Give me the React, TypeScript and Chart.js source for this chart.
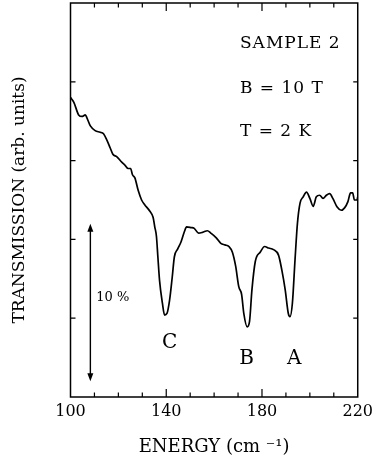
import { useEffect, useRef } from 'react';
import { Chart, registerables } from 'chart.js';

Chart.register(...registerables);

// Energy (cm^-1)
const energy = [
  100, 101.4, 103.4, 104.8, 106.2, 106.9, 108.3, 110.3, 112.4, 113.8,
  115.2, 116.6, 117.7, 119.3, 121.4, 122.8, 124.1, 125.1, 125.9, 126.9,
  128.3, 129.7, 131.0, 133.1, 134.5, 135.2, 135.9, 136.5, 137.2, 138.4,
  139.3, 140.3, 141.4, 142.5, 143.4, 144.8, 146.2, 147.6, 148.5, 150.4,
  151.7, 153.5, 155.2, 157.2, 158.6, 160.9, 162.8, 164.5, 166.2, 167.6,
  169.0, 170.3, 171.5, 172.4, 173.8, 174.8, 175.8, 177.2, 179.3, 181.1,
  182.8, 184.8, 186.9, 188.3, 189.7, 191.0, 191.7, 192.7, 193.8, 194.8,
  195.9, 197.2, 198.6, 200.0, 201.4, 202.7, 204.1, 205.5, 206.9, 208.3,
  209.6, 211.4, 213.1, 214.5, 215.9, 217.0, 217.9, 218.6, 219.7, 220,
];

// Transmission (%, arbitrary offset)
const transmission = [
  19.0, 18.7, 17.9, 17.8, 17.9, 17.7, 17.2, 16.9, 16.8, 16.7,
  16.3, 15.8, 15.4, 15.25, 14.9, 14.7, 14.5, 14.5, 14.1, 13.9,
  13.1, 12.5, 12.2, 11.8, 11.4, 10.8, 10.2, 8.9, 7.4, 5.95,
  5.2, 5.3, 6.15, 7.6, 8.9, 9.4, 9.85, 10.5, 10.8, 10.75,
  10.7, 10.4, 10.45, 10.55, 10.4, 10.1, 9.75, 9.65, 9.55, 9.2,
  8.3, 7.0, 6.5, 5.3, 4.45, 4.8, 6.8, 8.6, 9.2, 9.55,
  9.45, 9.35, 9.0, 8.05, 6.8, 5.3, 5.1, 5.95, 8.7, 11.0,
  12.3, 12.7, 13.0, 12.6, 12.1, 12.7, 12.8, 12.6, 12.8, 12.9,
  12.6, 12.05, 11.85, 12.0, 12.4, 12.95, 12.95, 12.5, 12.5, 12.7,
];

const xMinorTicks = [110, 120, 130, 140, 150, 160, 170, 180, 190, 200, 210];
const xMajorTicks = [140, 180];
const xLabelValues = [100, 140, 180, 220];
const yTicks = [5, 10, 15, 20];

const infoLines = ['SAMPLE 2', 'B = 10 T', 'T = 2 K'];
const peakLabels = ['C', 'B', 'A'];
const scaleBarLabel = '10 %';
const scaleBarRange = [1, 11];

const FONT = '"DejaVu Serif", "Liberation Serif", serif';

// annotation placement (data coordinates)
const infoPos = [
  { x: 170.8, y: 22.45 },
  { x: 170.8, y: 19.6 },
  { x: 170.8, y: 16.85 },
];
const peakPos = [
  { x: 141.4, y: 3.45 },
  { x: 173.6, y: 2.45 },
  { x: 193.5, y: 2.45 },
];
const scaleBarX = 108.3;
const scaleBarLabelPos = { x: 110.8, y: 6.3 };

const framePlugin = {
  id: 'frameTicks',
  afterDatasetsDraw(chart: any) {
    const { ctx, chartArea, scales } = chart;
    const xs = scales.x;
    const ys = scales.y;
    const { left, right, top, bottom } = chartArea;
    ctx.save();
    ctx.strokeStyle = '#000';
    ctx.lineWidth = 1.5;
    ctx.strokeRect(left, top, right - left, bottom - top);
    ctx.lineWidth = 1.2;
    ctx.beginPath();
    for (const v of xMinorTicks) {
      const px = xs.getPixelForValue(v);
      const len = xMajorTicks.includes(v) ? 8 : 4.5;
      ctx.moveTo(px, bottom);
      ctx.lineTo(px, bottom - len);
      ctx.moveTo(px, top);
      ctx.lineTo(px, top + len);
    }
    for (const v of yTicks) {
      const py = ys.getPixelForValue(v);
      ctx.moveTo(left, py);
      ctx.lineTo(left + 5, py);
      ctx.moveTo(right, py);
      ctx.lineTo(right - 4.5, py);
    }
    ctx.stroke();
    ctx.restore();
  },
};

const annotationPlugin = {
  id: 'notes',
  afterDraw(chart: any) {
    const { ctx, scales } = chart;
    const xs = scales.x;
    const ys = scales.y;
    ctx.save();
    ctx.fillStyle = '#000';
    ctx.strokeStyle = '#000';
    ctx.textBaseline = 'middle';

    ctx.font = `17px ${FONT}`;
    ctx.textAlign = 'left';
    (ctx as any).letterSpacing = '1px';
    infoLines.forEach((t, i) => {
      ctx.fillText(t, xs.getPixelForValue(infoPos[i].x), ys.getPixelForValue(infoPos[i].y));
    });
    (ctx as any).letterSpacing = '0px';

    ctx.font = `20px ${FONT}`;
    ctx.textAlign = 'center';
    peakLabels.forEach((t, i) => {
      ctx.fillText(t, xs.getPixelForValue(peakPos[i].x), ys.getPixelForValue(peakPos[i].y));
    });

    ctx.font = `13px ${FONT}`;
    ctx.textAlign = 'left';
    ctx.fillText(scaleBarLabel, xs.getPixelForValue(scaleBarLabelPos.x), ys.getPixelForValue(scaleBarLabelPos.y));

    // double arrow
    const ax = xs.getPixelForValue(scaleBarX);
    const y1 = ys.getPixelForValue(scaleBarRange[1]);
    const y0 = ys.getPixelForValue(scaleBarRange[0]);
    const head = 8;
    const hw = 3;
    ctx.lineWidth = 1.4;
    ctx.beginPath();
    ctx.moveTo(ax, y1 + head - 1);
    ctx.lineTo(ax, y0 - head + 1);
    ctx.stroke();
    ctx.beginPath();
    ctx.moveTo(ax, y1);
    ctx.lineTo(ax - hw, y1 + head);
    ctx.lineTo(ax + hw, y1 + head);
    ctx.closePath();
    ctx.fill();
    ctx.beginPath();
    ctx.moveTo(ax, y0);
    ctx.lineTo(ax - hw, y0 - head);
    ctx.lineTo(ax + hw, y0 - head);
    ctx.closePath();
    ctx.fill();
    ctx.restore();
  },
};

export default function App() {
  const canvasRef = useRef<HTMLCanvasElement | null>(null);

  useEffect(() => {
    const canvas = canvasRef.current;
    if (!canvas) return;
    const points = energy.map((e, i) => ({ x: e, y: transmission[i] }));
    const chart = new Chart(canvas, {
      type: 'line',
      data: {
        datasets: [
          {
            data: points,
            borderColor: '#000',
            borderWidth: 1.7,
            pointRadius: 0,
            fill: false,
            cubicInterpolationMode: 'monotone',
          },
        ],
      },
      options: {
        animation: false,
        responsive: false,
        devicePixelRatio: 1,
        layout: { padding: { top: 3, right: 17.3, left: 0, bottom: 0 } },
        plugins: { legend: { display: false }, tooltip: { enabled: false } },
        scales: {
          x: {
            type: 'linear',
            min: 100,
            max: 220,
            grid: { display: false, drawTicks: false },
            border: { display: false },
            ticks: {
              stepSize: 10,
              autoSkip: false,
              maxRotation: 0,
              padding: 5,
              color: '#000',
              font: { family: FONT, size: 16 },
              callback: (v: any) => (xLabelValues.includes(Number(v)) ? String(v) : ''),
            },
            title: {
              display: true,
              text: 'ENERGY (cm ⁻¹)',
              color: '#000',
              font: { family: FONT, size: 18 },
              padding: { top: 0, bottom: 3 },
            },
            afterFit: (s: any) => {
              s.height = 64;
            },
          },
          y: {
            type: 'linear',
            min: 0,
            max: 25,
            grid: { display: false, drawTicks: false },
            border: { display: false },
            ticks: { display: false, stepSize: 5 },
            title: {
              display: true,
              text: 'TRANSMISSION (arb. units)',
              color: '#000',
              font: { family: FONT, size: 17 },
              padding: { top: 9, bottom: 0 },
            },
            afterFit: (s: any) => {
              s.width = 70.5;
            },
          },
        },
      },
      plugins: [framePlugin, annotationPlugin],
    } as any);
    return () => chart.destroy();
  }, []);

  return (
    <div style={{ position: 'fixed', left: 0, top: 0, width: 378, height: 461, background: '#fff' }}>
      <canvas ref={canvasRef} width={378} height={461} style={{ width: 378, height: 461, display: 'block' }} />
    </div>
  );
}
